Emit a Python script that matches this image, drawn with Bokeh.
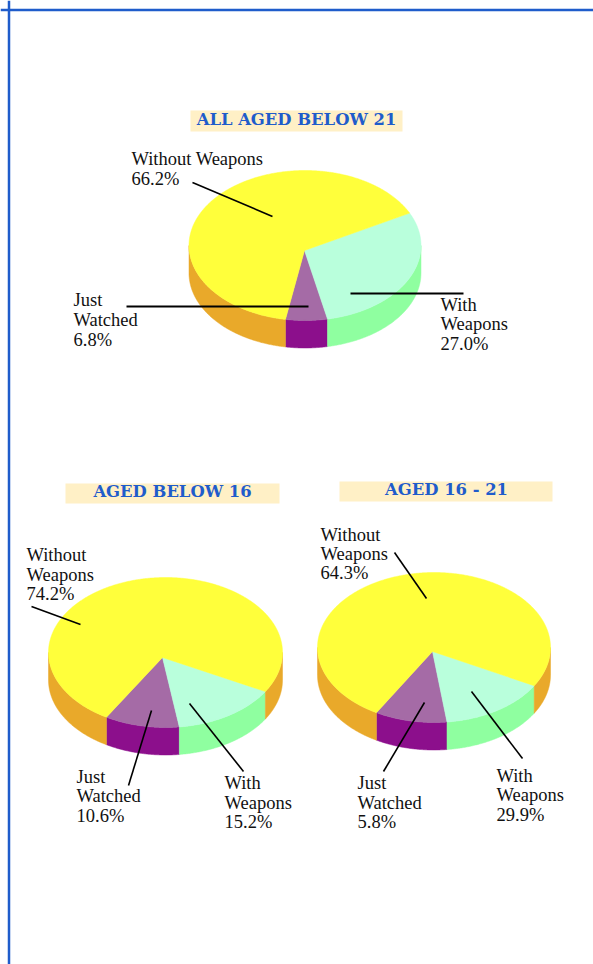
import numpy as np
from bokeh.core.properties import value
from bokeh.embed import file_html
from bokeh.models import Range1d, Span
from bokeh.plotting import figure
from bokeh.resources import INLINE

# ---- chart content -------------------------------------------------------
titles = ["ALL AGED BELOW 21", "AGED BELOW 16", "AGED 16 - 21"]
categories = ["Just Watched", "With Weapons", "Without Weapons"]
printed_all = [6.8, 27.0, 66.2]
printed_below16 = [10.6, 15.2, 74.2]
printed_16to21 = [5.8, 29.9, 64.3]
# the slice sizes as they are actually drawn in the picture (percent)
drawn_all = [5.8, 29.0, 65.2]
drawn_below16 = [10.3, 14.4, 75.3]
drawn_16to21 = [10.0, 14.7, 75.3]

# ---- styles --------------------------------------------------------------
TOP = ["#A56BA6", "#B9FFDC", "#FFFF3B"]
SIDE = ["#8C0F8C", "#8FFFA0", "#E9A92A"]
BLUE = "#1F5CCB"
BOX = "#FFF0C6"
SERIF = "Liberation Serif"
TEXT_SHIFT = -6

p = figure(width=593, height=964, x_range=Range1d(1, 594), y_range=Range1d(964, 0),
           output_backend="svg", toolbar_location=None, min_border=0)
p.axis.visible = False
p.grid.visible = False
p.outline_line_color = None
p.background_fill_color = "white"
p.border_fill_color = "white"

p.add_layout(Span(location=9.5, dimension="width", line_color=BLUE, line_width=2.5))
p.add_layout(Span(location=9.5, dimension="height", line_color=BLUE, line_width=2.5))


def arc(cx, cy, rx, ry, a0, a1, dy=0.0):
    t = np.radians(np.linspace(a0, a1, max(int(abs(a1 - a0)) * 2, 2)))
    return cx + rx * np.cos(t), cy - ry * np.sin(t) + dy


def pie(shares, start, cx, cy, rx, ry, depth, apex):
    spans = np.cumsum([0] + [s * 3.6 for s in shares]) + start
    # the rim
    for i in range(3):
        a0, a1 = spans[i], spans[i + 1]
        for k in (0, 360):
            lo, hi = max(a0, -180 + k), min(a1, k)
            if hi > lo:
                x0, y0 = arc(cx, cy, rx, ry, lo, hi)
                x1, y1 = arc(cx, cy, rx, ry, hi, lo, depth)
                p.patch(np.r_[x0, x1], np.r_[y0, y1], fill_color=SIDE[i], line_color=SIDE[i], line_width=0.5)
    # the top
    for i in range(3):
        x, y = arc(cx, cy, rx, ry, spans[i], spans[i + 1])
        p.patch(np.r_[apex[0], x], np.r_[apex[1], y], fill_color=TOP[i], line_color=TOP[i], line_width=0.5)


def title(text, box, cx, base, size):
    p.quad(left=[box[0]], right=[box[1]], top=[box[2]], bottom=[box[3]], fill_color=BOX, line_color=None)
    p.text([cx], [base + TEXT_SHIFT], text=[text], text_font=value("DejaVu Serif"), text_font_style="bold",
           text_font_size=size, text_color=BLUE, text_align="center", text_baseline="alphabetic")


def label(lines, x, bases):
    p.text([x] * len(lines), [b + TEXT_SHIFT for b in bases], text=lines, text_font=value(SERIF),
           text_font_size="18.5px", text_color="#111111", text_baseline="alphabetic")


def leader(x0, y0, x1, y1, w=1.6):
    p.line([x0, x1], [y0, y1], line_color="black", line_width=w)


pct = lambda v: f"{v:.1f}%"

pie(drawn_all, -99.7, 305.5, 245, 116, 75, 27.5, (305, 250))
pie(drawn_below16, -120.3, 166, 652, 117, 75, 27.5, (163, 657))
pie(drawn_16to21, -119.6, 434.5, 647, 116.5, 75, 27.5, (433, 651))

title(titles[0], (191, 403, 110, 131), 297, 125, "16.4px")
title(titles[1], (66, 280, 483, 503), 173, 497, "16.4px")
title(titles[2], (340, 553, 481, 501), 447, 495, "16.4px")

label(["Without Weapons", pct(printed_all[2])], 132, [164, 184])
label(["Just", "Watched", pct(printed_all[0])], 74, [305, 325, 345])
label(["With", "Weapons", pct(printed_all[1])], 441, [310, 329, 349])

label(["Without", "Weapons", pct(printed_below16[2])], 27, [560, 580, 599])
label(["Just", "Watched", pct(printed_below16[0])], 77, [782, 801, 821])
label(["With", "Weapons", pct(printed_below16[1])], 225, [788, 808, 827])

label(["Without", "Weapons", pct(printed_16to21[2])], 321, [540, 559, 578])
label(["Just", "Watched", pct(printed_16to21[0])], 358, [788, 808, 827])
label(["With", "Weapons", pct(printed_16to21[1])], 497, [781, 800, 820])

leader(193, 182, 273, 216)
leader(127, 306, 309, 306, 2)
leader(351, 293, 464, 293, 2)
leader(32, 606, 81, 624)
leader(152, 710, 129, 785)
leader(190, 703, 244, 771)
leader(395, 552, 427, 598)
leader(425, 702, 384, 771)
leader(472, 691, 523, 758)

open("out.html", "w").write(file_html(p, INLINE))
